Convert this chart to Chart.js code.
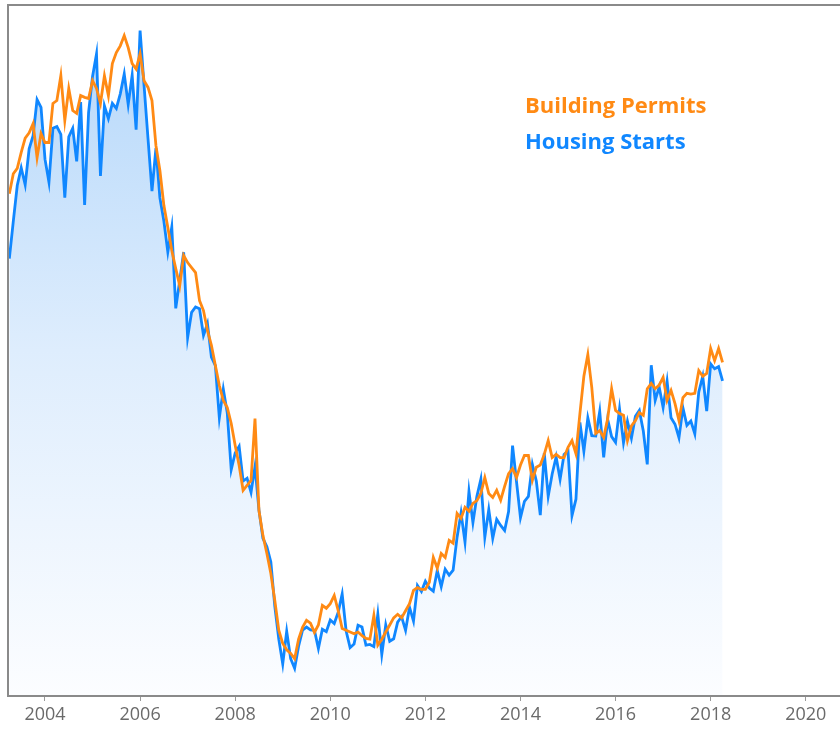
<!DOCTYPE html>
<html>
<head>
<meta charset="utf-8">
<script src="https://cdn.jsdelivr.net/npm/chart.js@4.4.1/dist/chart.umd.min.js"></script>
<style>
  html, body { margin: 0; padding: 0; background: #ffffff; }
  #wrap { width: 840px; height: 730px; }
</style>
</head>
<body>
<div id="wrap"><canvas id="c" width="840" height="730"></canvas></div>
<script>
// Monthly series, starting April 2003 (thousands of units, SAAR)
const startYear = 2003;
const startMonth = 4;

const housingStarts = [
  1631, 1736, 1837, 1887, 1839, 1940, 1977, 2079, 2057,
  1911, 1846, 1998, 2003, 1981, 1803, 1974, 1998, 1905, 2072, 1782, 2042,
  2144, 2207, 1864, 2061, 2025, 2068, 2054, 2095, 2151, 2065, 2147, 1994,
  2273, 2119, 1969, 1821, 1942, 1802, 1737, 1650, 1720, 1491, 1570, 1649,
  1409, 1480, 1495, 1490, 1415, 1448, 1354, 1330, 1183, 1264, 1197, 1037,
  1084, 1103, 1005, 1013, 973, 1046, 923, 844, 820, 777, 652, 560,
  490, 582, 505, 478, 540, 585, 594, 586, 585, 534, 588, 581,
  614, 604, 636, 687, 583, 536, 546, 599, 594, 543, 545, 539,
  630, 517, 600, 554, 561, 608, 623, 585, 650, 611, 711, 694,
  723, 704, 695, 753, 708, 757, 740, 754, 847, 915, 833, 976,
  888, 962, 1010, 847, 925, 844, 897, 880, 866, 919, 1105, 1003,
  902, 948, 962, 1052, 1005, 909, 1084, 962, 1025, 1073, 1010, 1080,
  1090, 908, 954, 1170, 1089, 1183, 1133, 1132, 1201, 1072, 1179, 1130,
  1114, 1208, 1113, 1173, 1126, 1187, 1204, 1146, 1052, 1331, 1232, 1270,
  1212, 1286, 1183, 1165, 1127, 1211, 1162, 1174, 1138, 1256, 1300, 1202,
  1335, 1321, 1327, 1287
];

const buildingPermits = [
  1814, 1870, 1885, 1930, 1970, 1985, 2011, 1915, 1983,
  1958, 1958, 2068, 2076, 2146, 2020, 2110, 2048, 2040, 2090, 2085, 2082,
  2132, 2110, 2068, 2146, 2090, 2180, 2211, 2230, 2259, 2225, 2180, 2165,
  2208, 2132, 2113, 2076, 1949, 1879, 1781, 1719, 1654, 1603, 1555, 1640,
  1620, 1606, 1592, 1513, 1485, 1429, 1387, 1330, 1274, 1232, 1212, 1167,
  1105, 1049, 979, 993, 1007, 1181, 922, 852, 801, 745, 669, 585,
  548, 530, 520, 505, 560, 593, 613, 605, 579, 600, 655, 647,
  660, 683, 640, 590, 585, 580, 575, 580, 570, 562, 560, 627,
  543, 560, 580, 600, 620, 630, 620, 640, 660, 697, 705, 700,
  700, 720, 790, 760, 801, 790, 838, 830, 914, 900, 931, 920,
  942, 950, 970, 1015, 970, 959, 979, 951, 990, 1026, 1040, 1015,
  1050, 1077, 1077, 1007, 1044, 1050, 1080, 1119, 1071, 1080, 1071, 1071,
  1100, 1119, 1082, 1195, 1300, 1361, 1268, 1139, 1147, 1128, 1180, 1265,
  1204, 1195, 1190, 1119, 1160, 1175, 1198, 1190, 1265, 1280, 1265, 1275,
  1297, 1232, 1260, 1223, 1175, 1240, 1252, 1250, 1252, 1316, 1300, 1308,
  1378, 1344, 1378, 1339
];

const seriesNames = ["Building Permits", "Housing Starts"];
const tickYears = [2004, 2006, 2008, 2010, 2012, 2014, 2016, 2018, 2020];

const ORANGE = '#ff8a14';
const BLUE = '#1087ff';

function toPoints(arr) {
  return arr.map((v, i) => ({ x: startYear + (startMonth - 1 + i) / 12, y: v }));
}

const framePlugin = {
  id: 'frame',
  afterDatasetsDraw(chart) {
    const { ctx, chartArea: a } = chart;
    ctx.save();
    ctx.strokeStyle = '#8a8a8a';
    ctx.lineWidth = 2;
    ctx.beginPath();
    ctx.moveTo(a.right, a.bottom);
    ctx.lineTo(a.left, a.bottom);
    ctx.lineTo(a.left, a.top);
    ctx.lineTo(a.right, a.top);
    ctx.stroke();
    ctx.restore();

    ctx.save();
    ctx.font = 'bold 22px "Open Sans", "DejaVu Sans", sans-serif';
    ctx.textBaseline = 'alphabetic';
    ctx.textAlign = 'left';
    ctx.fillStyle = ORANGE;
    ctx.fillText(seriesNames[0], 525, 113);
    ctx.fillStyle = BLUE;
    ctx.fillText(seriesNames[1], 525, 149);
    ctx.restore();
  }
};

new Chart(document.getElementById('c'), {
  type: 'line',
  data: {
    datasets: [
      {
        label: seriesNames[0],
        data: toPoints(buildingPermits),
        borderColor: ORANGE,
        borderWidth: 2.8,
        pointRadius: 0,
        tension: 0,
        fill: false,
        order: 0
      },
      {
        label: seriesNames[1],
        data: toPoints(housingStarts),
        borderColor: BLUE,
        borderWidth: 2.8,
        pointRadius: 0,
        tension: 0,
        fill: 'start',
        order: 1,
        backgroundColor(context) {
          const { chart } = context;
          const a = chart.chartArea;
          if (!a) return 'rgba(180,215,250,0.6)';
          const g = chart.ctx.createLinearGradient(0, a.top, 0, a.bottom);
          g.addColorStop(0, 'rgb(178,214,250)');
          g.addColorStop(0.5, 'rgb(222,237,253)');
          g.addColorStop(1, 'rgb(252,253,255)');
          return g;
        }
      }
    ]
  },
  options: {
    responsive: false,
    animation: false,
    events: [],
    layout: { padding: { left: 8, top: 5, right: 0, bottom: 0 } },
    plugins: { legend: { display: false }, tooltip: { enabled: false }, title: { display: false } },
    scales: {
      x: {
        type: 'linear',
        min: 2003.222,
        max: 2020.72,
        afterFit(scale) { scale.height = 34; },
        afterBuildTicks(scale) { scale.ticks = tickYears.map(v => ({ value: v })); },
        ticks: {
          callback: (v) => String(v),
          color: '#6a6a6a',
          font: { family: '"Open Sans", sans-serif', size: 18 },
          padding: 3,
          maxRotation: 0,
          autoSkip: false
        },
        grid: { display: true, drawOnChartArea: false, drawTicks: true, tickLength: 5, color: '#999999', lineWidth: 1 },
        border: { display: true, color: '#8a8a8a', width: 2 }
      },
      y: {
        display: false,
        min: 400,
        max: 2345
      }
    }
  },
  plugins: [framePlugin]
});
</script>
</body>
</html>
